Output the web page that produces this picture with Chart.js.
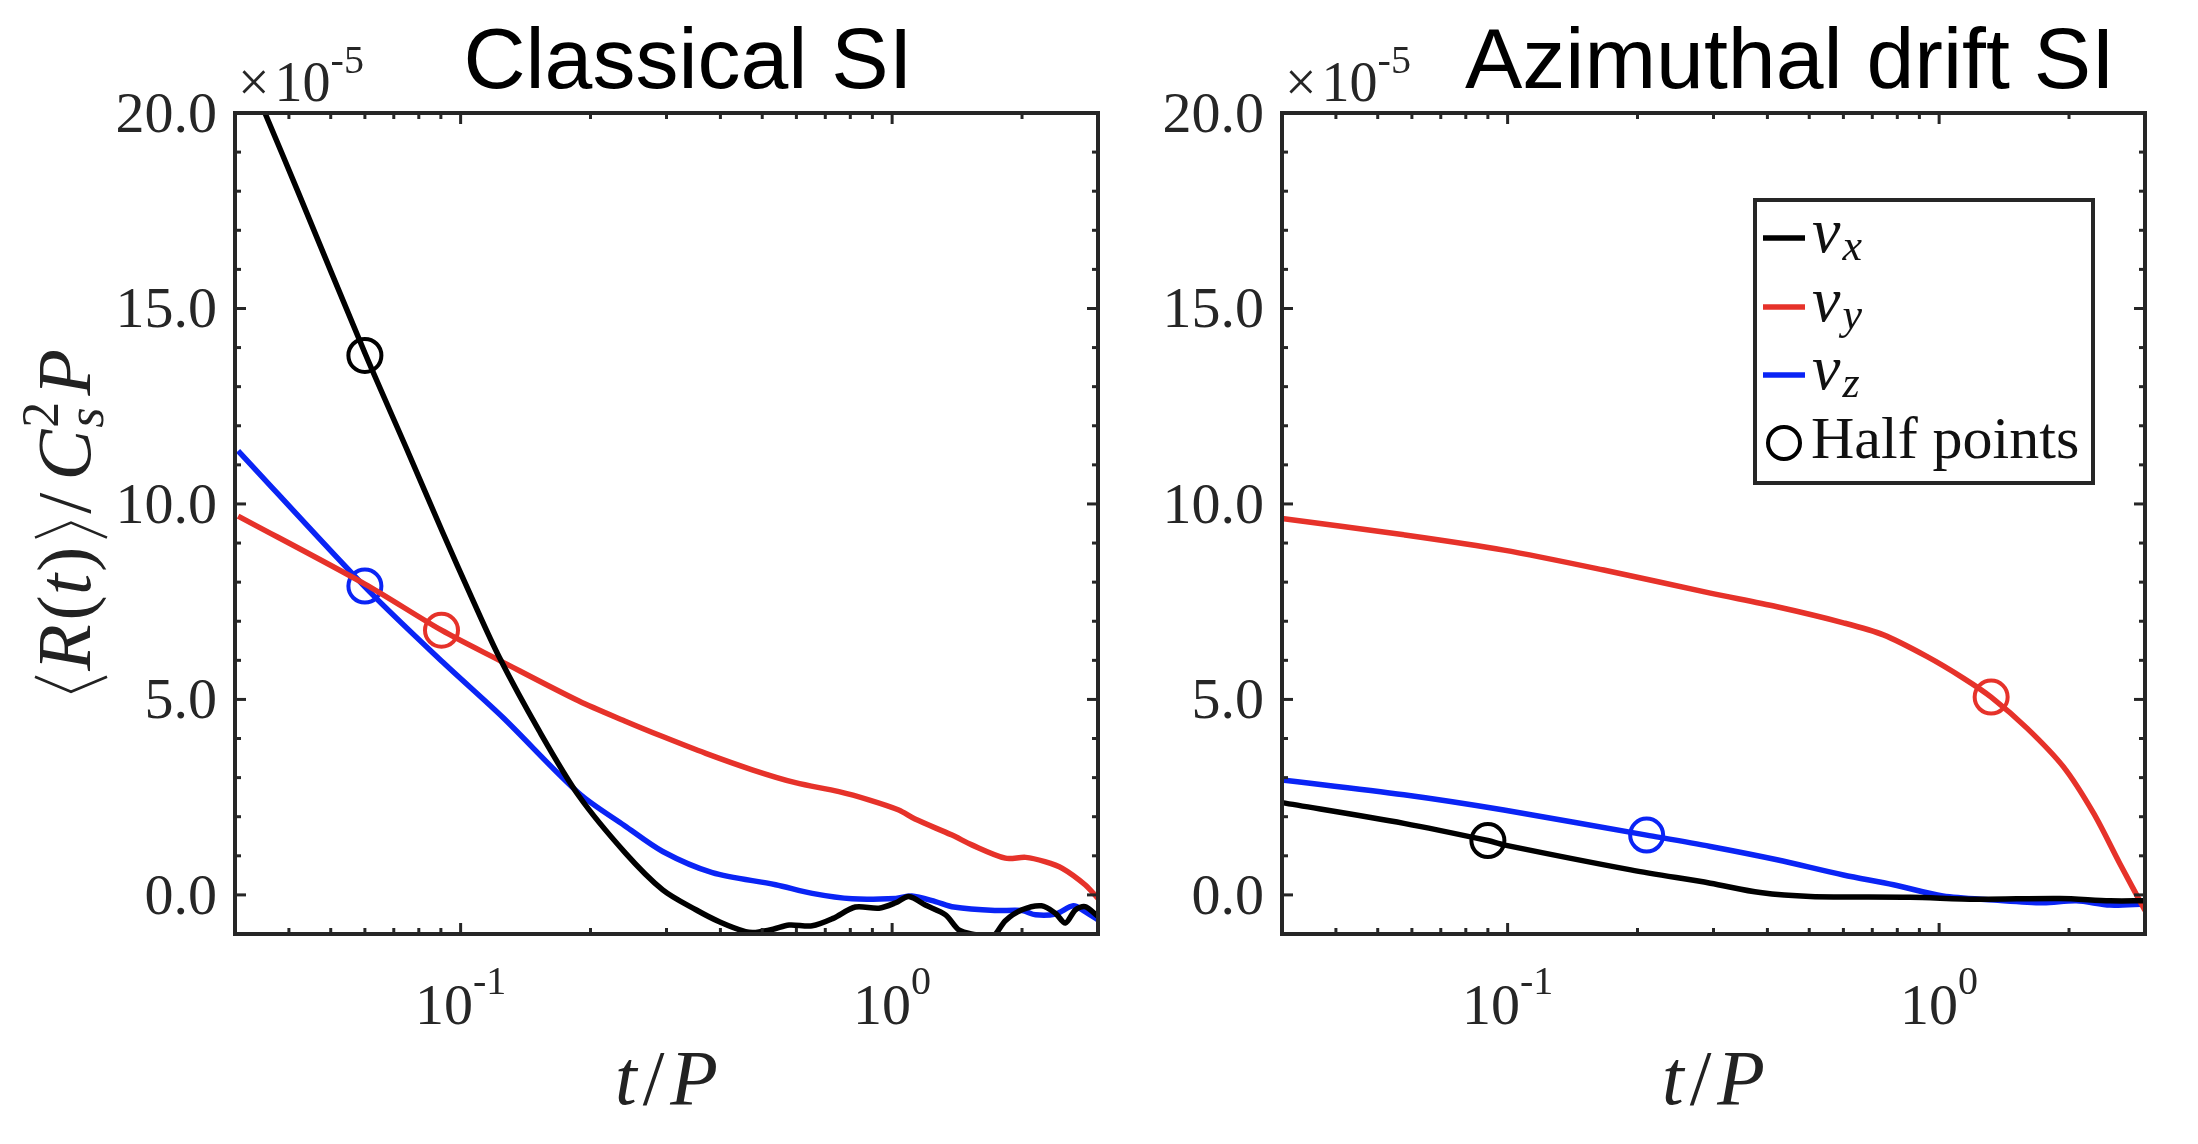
<!DOCTYPE html>
<html lang="en">
<head>
<meta charset="UTF-8">
<title>Half points: classical SI vs azimuthal drift SI</title>
<script src="https://cdn.jsdelivr.net/npm/chart.js@4.4.1/dist/chart.umd.min.js"></script>
<style>
  html, body { margin: 0; padding: 0; background: #fff; }
  #wrap { position: relative; width: 2198px; height: 1144px; overflow: hidden; }
  canvas { position: absolute; top: 0; }
</style>
</head>
<body>
<div id="wrap">
  <canvas id="classical" width="1140" height="1144" style="left:0px"></canvas>
  <canvas id="azimuthal" width="1058" height="1144" style="left:1140px"></canvas>
</div>
<script>
// ---- values (units of 1e-5) ----
const classicalVxT = [0.030, 0.0352, 0.0423, 0.060, 0.0747, 0.0909, 0.1066, 0.123, 0.152, 0.188, 0.241, 0.294, 0.351, 0.40, 0.457, 0.483, 0.53, 0.577, 0.653, 0.73, 0.822, 0.932, 1.02, 1.093, 1.194, 1.33, 1.43, 1.56, 1.70, 1.83, 2.0, 2.22, 2.39, 2.52, 2.66, 2.80, 3.0];
const classicalVx  = [21.8, 20.0, 17.9, 13.86, 11.45, 9.27, 7.55, 6.07, 4.2, 2.53, 1.07, 0.13, -0.38, -0.7, -0.94, -0.96, -0.88, -0.77, -0.79, -0.6, -0.31, -0.34, -0.2, -0.04, -0.26, -0.51, -0.90, -1.02, -1.1, -0.66, -0.38, -0.28, -0.47, -0.72, -0.38, -0.30, -0.55];

const classicalVyT = [0.0305, 0.060, 0.0903, 0.123, 0.188, 0.24, 0.294, 0.370, 0.474, 0.597, 0.753, 0.883, 1.036, 1.13, 1.377, 1.53, 1.83, 2.04, 2.26, 2.48, 2.80, 3.0];
const classicalVy  = [9.69, 7.95, 6.77, 6.0, 4.96, 4.45, 4.05, 3.62, 3.20, 2.87, 2.64, 2.43, 2.17, 1.94, 1.53, 1.28, 0.94, 0.96, 0.85, 0.68, 0.26, -0.09];

const classicalVzT = [0.0305, 0.060, 0.091, 0.125, 0.188, 0.24, 0.294, 0.383, 0.537, 0.653, 0.808, 1.02, 1.11, 1.26, 1.39, 1.73, 2.0, 2.15, 2.39, 2.63, 2.80, 3.0];
const classicalVz  = [11.36, 7.88, 5.95, 4.55, 2.6, 1.77, 1.11, 0.57, 0.26, 0.04, -0.10, -0.09, -0.03, -0.17, -0.31, -0.40, -0.40, -0.51, -0.49, -0.28, -0.43, -0.64];

const classicalHalfT = [0.060, 0.0903, 0.060];
const classicalHalf  = [13.8, 6.77, 7.9];

const azimuthalVxT = [0.030, 0.0575, 0.090, 0.098, 0.193, 0.295, 0.385, 0.503, 0.857, 1.22, 1.905, 2.49, 3.0];
const azimuthalVx  = [2.36, 1.83, 1.39, 1.28, 0.64, 0.30, 0.06, -0.04, -0.06, -0.11, -0.09, -0.15, -0.15];

const azimuthalVyT = [0.030, 0.0575, 0.098, 0.167, 0.295, 0.421, 0.600, 0.743, 0.936, 1.14, 1.32, 1.60, 1.94, 2.28, 2.62, 3.0];
const azimuthalVy  = [9.63, 9.21, 8.82, 8.31, 7.72, 7.37, 6.96, 6.65, 6.10, 5.54, 5.06, 4.26, 3.28, 2.09, 0.81, -0.40];

const azimuthalVzT = [0.030, 0.0575, 0.098, 0.210, 0.295, 0.421, 0.600, 0.784, 1.02, 1.34, 1.74, 2.08, 2.49, 3.0];
const azimuthalVz  = [2.94, 2.56, 2.17, 1.53, 1.24, 0.90, 0.51, 0.26, -0.03, -0.13, -0.20, -0.15, -0.26, -0.23];

const azimuthalHalfT = [0.090, 1.32, 0.210];
const azimuthalHalf  = [1.39, 5.06, 1.53];

const legendSubs = ['x', 'y', 'z'];
const halfLabel = 'Half points';
const panelTitles = ['Classical SI', 'Azimuthal drift SI'];

const yTicks = [0, 5, 10, 15, 20];
const yMinorTicks = [1, 2, 3, 4, 6, 7, 8, 9, 11, 12, 13, 14, 16, 17, 18, 19];
const xTicks = [0.1, 1];
const xTickExponents = ['-1', '0'];
const xMinorTicks = [0.04, 0.05, 0.06, 0.07, 0.08, 0.09, 0.2, 0.3, 0.4, 0.5, 0.6, 0.7, 0.8, 0.9, 2];
const yExponent = '-5';

const colors = ['#000000', '#E6322A', '#0A24F5'];

// ---- drawing helpers ----
const serif = '"Liberation Serif", "Times New Roman", "DejaVu Serif", serif';
const sans = '"Liberation Sans", Arial, sans-serif';
const ink = '#262626';

function pts(ts, vs) {
    return ts.map((t, i) => ({ x: t, y: vs[i] }));
}

// runs of text laid out left to right; a run may carry its own draw()
function drawRuns(ctx, runs, x, y, align) {
    ctx.textAlign = 'left';
    let w = 0;
    runs.forEach(r => {
        if (r.t !== undefined) ctx.font = r.font;
        r.w = r.adv !== undefined ? r.adv : ctx.measureText(r.t).width;
        w += r.w + (r.gap || 0);
    });
    let cx = align === 'center' ? x - w / 2 : (align === 'right' ? x - w : x);
    runs.forEach(r => {
        if (r.draw) {
            r.draw(ctx, cx, y);
        } else {
            ctx.font = r.font;
            ctx.fillText(r.t, cx, y + (r.dy || 0));
        }
        cx += r.w + (r.gap || 0);
    });
}

function line(ctx, x1, y1, x2, y2) {
    ctx.beginPath();
    ctx.moveTo(x1, y1);
    ctx.lineTo(x2, y2);
    ctx.stroke();
}

function angle(open) {
    return (ctx, x, y) => {
        ctx.save();
        ctx.lineWidth = 2.6;
        ctx.strokeStyle = ctx.fillStyle;
        ctx.beginPath();
        if (open) {
            ctx.moveTo(x + 16, y - 55);
            ctx.lineTo(x + 1, y - 19);
            ctx.lineTo(x + 16, y + 17);
        } else {
            ctx.moveTo(x + 1, y - 55);
            ctx.lineTo(x + 16, y - 19);
            ctx.lineTo(x + 1, y + 17);
        }
        ctx.stroke();
        ctx.restore();
    };
}

const axesPlugin = {
    id: 'axesDecor',
    afterDraw(chart, args, opts) {
        const { ctx, chartArea: a } = chart;
        const x = chart.scales.x, y = chart.scales.y;
        ctx.save();
        ctx.strokeStyle = ink;
        ctx.fillStyle = ink;
        ctx.lineCap = 'butt';

        // inward ticks on all four sides
        ctx.lineWidth = 3;
        xTicks.forEach(v => {
            const p = x.getPixelForValue(v);
            line(ctx, p, a.bottom, p, a.bottom - 11);
            line(ctx, p, a.top, p, a.top + 11);
        });
        xMinorTicks.forEach(v => {
            const p = x.getPixelForValue(v);
            line(ctx, p, a.bottom, p, a.bottom - 6);
            line(ctx, p, a.top, p, a.top + 6);
        });
        yTicks.forEach(v => {
            const p = y.getPixelForValue(v);
            line(ctx, a.left, p, a.left + 11, p);
            line(ctx, a.right, p, a.right - 11, p);
        });
        yMinorTicks.forEach(v => {
            const p = y.getPixelForValue(v);
            line(ctx, a.left, p, a.left + 6, p);
            line(ctx, a.right, p, a.right - 6, p);
        });

        // box
        ctx.lineWidth = 4;
        ctx.strokeRect(a.left, a.top, a.right - a.left, a.bottom - a.top);

        // y tick labels
        ctx.textBaseline = 'alphabetic';
        ctx.textAlign = 'right';
        ctx.font = '58px ' + serif;
        yTicks.forEach(v => {
            ctx.fillText(v.toFixed(1), a.left - 18, y.getPixelForValue(v) + 19);
        });

        // x tick labels 10^n
        xTicks.forEach((v, i) => {
            drawRuns(ctx, [
                { t: '10', font: '58px ' + serif },
                { t: xTickExponents[i], font: '40px ' + serif, dy: -30 }
            ], x.getPixelForValue(v), 1024, 'center');
        });

        // x10^-5 multiplier
        drawRuns(ctx, [
            { t: '\u00D7', font: '56px ' + serif, gap: 5 },
            { t: '10', font: '56px ' + serif },
            { t: yExponent, font: '40px ' + serif, dy: -28 }
        ], a.left + 3, 101, 'left');

        // x axis label t/P
        ctx.fillStyle = '#222';
        drawRuns(ctx, [
            { t: 't', font: 'italic 78px ' + serif, gap: 6 },
            { t: '/', font: '78px ' + serif, gap: 6 },
            { t: 'P', font: 'italic 78px ' + serif }
        ], (a.left + a.right) / 2, 1104, 'center');

        // title
        ctx.fillStyle = '#000';
        ctx.textAlign = 'center';
        ctx.font = '86px ' + sans;
        ctx.fillText(opts.title, opts.titleX, 88);

        // y axis label
        if (opts.yLabel) {
            ctx.save();
            ctx.translate(90, 521);
            ctx.rotate(-Math.PI / 2);
            ctx.fillStyle = '#222';
            const f = '76px ' + serif, fi = 'italic 76px ' + serif;
            drawRuns(ctx, [
                { draw: angle(true), adv: 17, gap: 5 },
                { t: 'R', font: fi, gap: 4 },
                { t: '(', font: f },
                { t: 't', font: fi, gap: 2 },
                { t: ')', font: f, gap: 8 },
                { draw: angle(false), adv: 17, gap: 8 },
                { t: '/', font: f, gap: 12 },
                { t: 'C', font: fi, gap: 2 },
                { t: '2', font: '52px ' + serif, dy: -32, adv: 0 },
                { t: 's', font: 'italic 52px ' + serif, dy: 13, gap: 12 },
                { t: 'P', font: fi }
            ], 0, 0, 'center');
            ctx.restore();
        }

        // legend
        if (opts.legend) {
            const L = opts.legend;
            ctx.fillStyle = '#fff';
            ctx.fillRect(L.left, L.top, L.right - L.left, L.bottom - L.top);
            ctx.strokeStyle = ink;
            ctx.lineWidth = 4;
            ctx.strokeRect(L.left, L.top, L.right - L.left, L.bottom - L.top);
            const rows = [238, 307, 375];
            legendSubs.forEach((s, i) => {
                ctx.strokeStyle = colors[i];
                ctx.lineWidth = 5.5;
                line(ctx, L.left + 8, rows[i], L.left + 50, rows[i]);
                ctx.fillStyle = '#111';
                drawRuns(ctx, [
                    { t: 'v', font: 'italic 64px ' + serif, gap: 2 },
                    { t: s, font: 'italic 44px ' + serif, dy: 8 }
                ], L.left + 57, rows[i] + 14, 'left');
            });
            ctx.strokeStyle = '#000';
            ctx.lineWidth = 4;
            ctx.beginPath();
            ctx.arc(L.left + 29, 443, 16, 0, Math.PI * 2);
            ctx.stroke();
            ctx.fillStyle = '#111';
            ctx.textAlign = 'left';
            ctx.font = '60px ' + serif;
            ctx.fillText(halfLabel, L.left + 56, 458);
        }
        ctx.restore();
    }
};

function makePanel(id, series, halfT, halfV, padding, decor) {
    const datasets = series.map((s, i) => ({
        data: pts(s[0], s[1]),
        borderColor: colors[i],
        borderWidth: 5.5,
        pointRadius: 0,
        tension: 0.3,
        fill: false,
        clip: 2
    }));
    datasets.push({
        data: pts(halfT, halfV),
        showLine: false,
        pointRadius: 16.5,
        pointBorderWidth: 4,
        pointBorderColor: colors,
        pointBackgroundColor: 'rgba(0,0,0,0)',
        borderColor: colors,
        clip: false
    });
    return new Chart(document.getElementById(id).getContext('2d'), {
        type: 'line',
        data: { datasets: datasets },
        options: {
            responsive: false,
            animation: false,
            events: [],
            devicePixelRatio: 1,
            layout: { padding: padding },
            scales: {
                x: { type: 'logarithmic', min: 0.03, max: 3, display: false },
                y: { type: 'linear', min: -1, max: 20, display: false }
            },
            plugins: {
                legend: { display: false },
                tooltip: { enabled: false },
                axesDecor: decor
            }
        },
        plugins: [axesPlugin]
    });
}

makePanel('classical',
    [[classicalVxT, classicalVx], [classicalVyT, classicalVy], [classicalVzT, classicalVz]],
    classicalHalfT, classicalHalf,
    { left: 235, top: 113, right: 42, bottom: 210 },
    { title: panelTitles[0], titleX: 688, yLabel: true });

makePanel('azimuthal',
    [[azimuthalVxT, azimuthalVx], [azimuthalVyT, azimuthalVy], [azimuthalVzT, azimuthalVz]],
    azimuthalHalfT, azimuthalHalf,
    { left: 142, top: 113, right: 53, bottom: 210 },
    { title: panelTitles[1], titleX: 650, yLabel: false,
      legend: { left: 615, top: 200, right: 953, bottom: 483 } });
</script>
</body>
</html>
